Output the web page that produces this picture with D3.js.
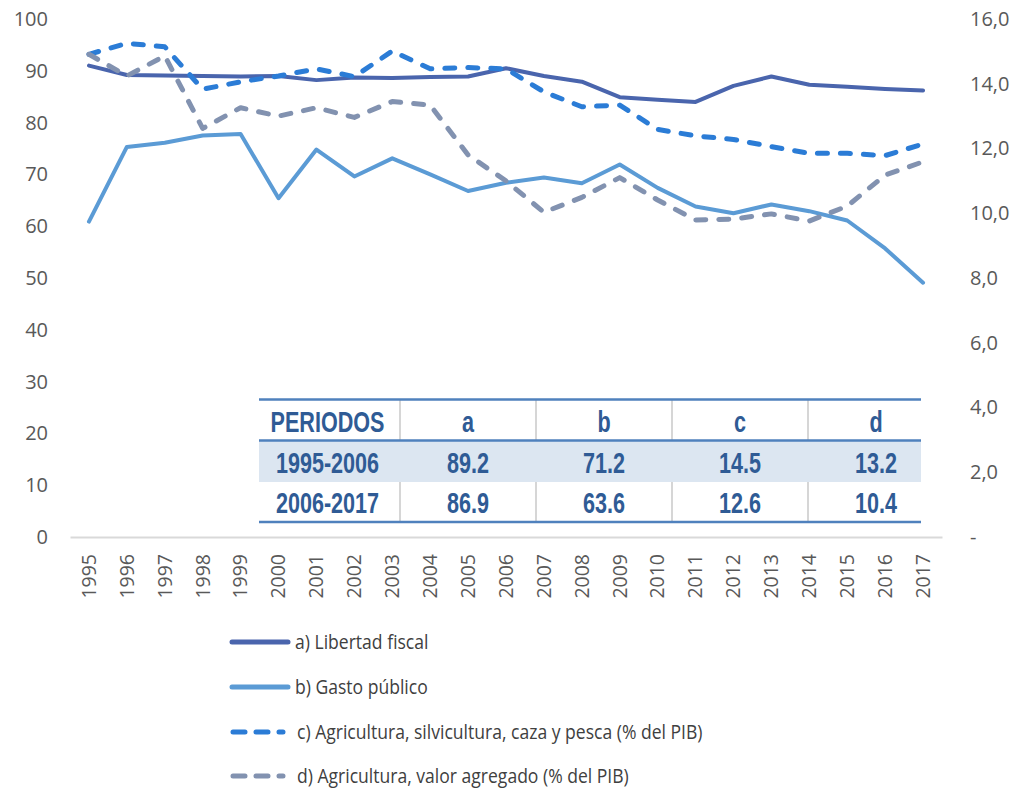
<!DOCTYPE html>
<html>
<head>
<meta charset="utf-8">
<script src="https://cdn.jsdelivr.net/npm/d3@7"></script>
<style>
  body { margin: 0; background: #fff; }
  svg { display: block; font-family: "Open Sans", sans-serif; }
</style>
</head>
<body>
<svg width="1018" height="789"></svg>
<script>
const years = ['1995','1996','1997','1998','1999','2000','2001','2002','2003','2004','2005','2006',
  '2007','2008','2009','2010','2011','2012','2013','2014','2015','2016','2017'];

// left axis (0-100)
const libertadFiscal = [91.0, 89.2, 89.1, 89.0, 88.9, 89.0, 88.2, 88.7, 88.6, 88.8, 88.9, 90.5,
  89.0, 87.9, 84.9, 84.4, 84.0, 87.1, 88.9, 87.3, 86.9, 86.5, 86.2];
const gastoPublico = [60.9, 75.3, 76.1, 77.5, 77.8, 65.4, 74.8, 69.6, 73.1, 70.0, 66.8, 68.4,
  69.4, 68.3, 71.9, 67.4, 63.8, 62.5, 64.2, 62.9, 61.1, 55.7, 49.1];
// right axis (% del PIB)
const agriSilvi = [14.91, 15.25, 15.14, 13.83, 14.06, 14.24, 14.46, 14.22, 15.01, 14.46, 14.50, 14.46,
  13.75, 13.29, 13.34, 12.59, 12.39, 12.28, 12.06, 11.85, 11.85, 11.78, 12.14];
const agriValor = [14.91, 14.24, 14.86, 12.62, 13.26, 13.00, 13.26, 12.96, 13.45, 13.34, 11.80, 11.00,
  10.03, 10.49, 11.10, 10.41, 9.79, 9.82, 9.98, 9.76, 10.22, 11.18, 11.59];

const leftTicks = [0, 10, 20, 30, 40, 50, 60, 70, 80, 90, 100];
const rightTicks = [0, 2, 4, 6, 8, 10, 12, 14, 16];

const legendLabels = [
  'a) Libertad fiscal',
  'b) Gasto público',
  'c) Agricultura, silvicultura, caza y pesca (% del PIB)',
  'd) Agricultura, valor agregado (% del PIB)'
];

const tableHeader = ['PERIODOS', 'a', 'b', 'c', 'd'];
const tablePeriods = ['1995-2006', '2006-2017'];
const tableValues = [
  ['89.2', '71.2', '14.5', '13.2'],
  ['86.9', '63.6', '12.6', '10.4']
];

const svg = d3.select('svg');

const x = d3.scaleBand().domain(years).range([70, 942]);
const yLeft = d3.scaleLinear().domain([0, 100]).range([537, 19]);
const yRight = d3.scaleLinear().domain([0, 16]).range([537, 19]);
const cx = (d) => x(d) + x.bandwidth() / 2;

// axes
const leftAxis = svg.append('g')
  .attr('transform', 'translate(70,0)')
  .call(d3.axisLeft(yLeft).tickValues(leftTicks).tickSize(0).tickPadding(22));
leftAxis.select('.domain').remove();

const rightAxis = svg.append('g')
  .attr('transform', 'translate(942,0)')
  .call(d3.axisRight(yRight).tickValues(rightTicks).tickSize(0).tickPadding(28)
    .tickFormat((d) => d === 0 ? '-' : d.toFixed(1).replace('.', ',')));
rightAxis.select('.domain').remove();

svg.selectAll('.tick text')
  .attr('font-family', '"Open Sans", sans-serif')
  .attr('font-size', 20)
  .attr('fill', '#595959');

const bottomAxis = svg.append('g')
  .attr('transform', 'translate(0,537)')
  .call(d3.axisBottom(x).tickSize(0).tickPadding(0));
bottomAxis.select('.domain').attr('stroke', '#d9d9d9').attr('stroke-width', 2);
bottomAxis.selectAll('text')
  .attr('font-family', '"Open Sans", sans-serif')
  .attr('font-size', 19.5)
  .attr('fill', '#595959')
  .attr('text-anchor', 'end')
  .attr('dy', '0.35em')
  .attr('transform', 'translate(0,17) rotate(-90)');

// series
const series = [
  { values: libertadFiscal, scale: yLeft, color: '#4a65ad', width: 4, dash: null },
  { values: gastoPublico, scale: yLeft, color: '#5b9bd5', width: 4, dash: null },
  { values: agriSilvi, scale: yRight, color: '#2b7cd6', width: 5, dash: '10,13' },
  { values: agriValor, scale: yRight, color: '#8292b0', width: 5, dash: '10,13' }
];

series.forEach((s) => {
  const line = d3.line()
    .x((d, i) => cx(years[i]))
    .y((d) => s.scale(d));
  svg.append('path')
    .datum(s.values)
    .attr('d', line)
    .attr('fill', 'none')
    .attr('stroke', s.color)
    .attr('stroke-width', s.width)
    .attr('stroke-linejoin', 'round')
    .attr('stroke-linecap', 'round')
    .attr('stroke-dasharray', s.dash);
});

// table
const colEdges = [259, 400, 536, 672, 808, 944];
const tableRight = 921;
const rowBase = [432, 473, 513];
const tableColor = '#2f5b95';

const table = svg.append('g');
table.append('rect')
  .attr('x', 259).attr('y', 400).attr('width', tableRight - 259).attr('height', 122)
  .attr('fill', '#fff');

[1, 2, 3, 4].forEach((c) => {
  table.append('line')
    .attr('x1', colEdges[c]).attr('x2', colEdges[c])
    .attr('y1', 400).attr('y2', 522)
    .attr('stroke', '#c8c8c8').attr('stroke-width', 1.5);
});
// row 1 background covers divider
table.append('rect')
  .attr('x', 259).attr('y', 441).attr('width', tableRight - 259).attr('height', 41)
  .attr('fill', '#dce6f1');

[399.5, 440.5, 522].forEach((y) => {
  table.append('line')
    .attr('x1', 259).attr('x2', tableRight)
    .attr('y1', y).attr('y2', y)
    .attr('stroke', '#4f81bd').attr('stroke-width', 2.5);
});

const colCenter = (c) => (colEdges[c] + colEdges[c + 1]) / 2;

// narrow bold text: squeeze a regular bold face horizontally
function cellText(txt, c, r) {
  table.append('text')
    .attr('transform', `translate(${colCenter(c) - (c === 0 ? 2 : 0)},${rowBase[r]}) scale(0.72,1)`)
    .attr('text-anchor', 'middle')
    .attr('font-family', '"Liberation Sans", Arial, sans-serif')
    .attr('font-weight', 'bold')
    .attr('font-size', 30)
    .attr('fill', tableColor)
    .text(txt);
}

tableHeader.forEach((h, c) => cellText(h, c, 0));
tablePeriods.forEach((p, r) => {
  cellText(p, 0, r + 1);
  tableValues[r].forEach((v, c) => cellText(v, c + 1, r + 1));
});

// legend
const legendY = [642, 687, 732, 776];
const legend = svg.append('g');
series.forEach((s, i) => {
  legend.append('line')
    .attr('x1', s.dash ? 233 : 232).attr('x2', s.dash ? 283 : 288)
    .attr('y1', legendY[i]).attr('y2', legendY[i])
    .attr('stroke', s.color)
    .attr('stroke-width', 5)
    .attr('stroke-linecap', 'round')
    .attr('stroke-dasharray', s.dash ? '12,11' : null);
  legend.append('text')
    .attr('transform', `translate(${s.dash ? 297 : 295},${legendY[i]}) scale(0.9,1)`)
    .attr('dy', '0.35em')
    .attr('font-size', 19.5)
    .attr('fill', '#404040')
    .text(legendLabels[i]);
});
</script>
</body>
</html>
